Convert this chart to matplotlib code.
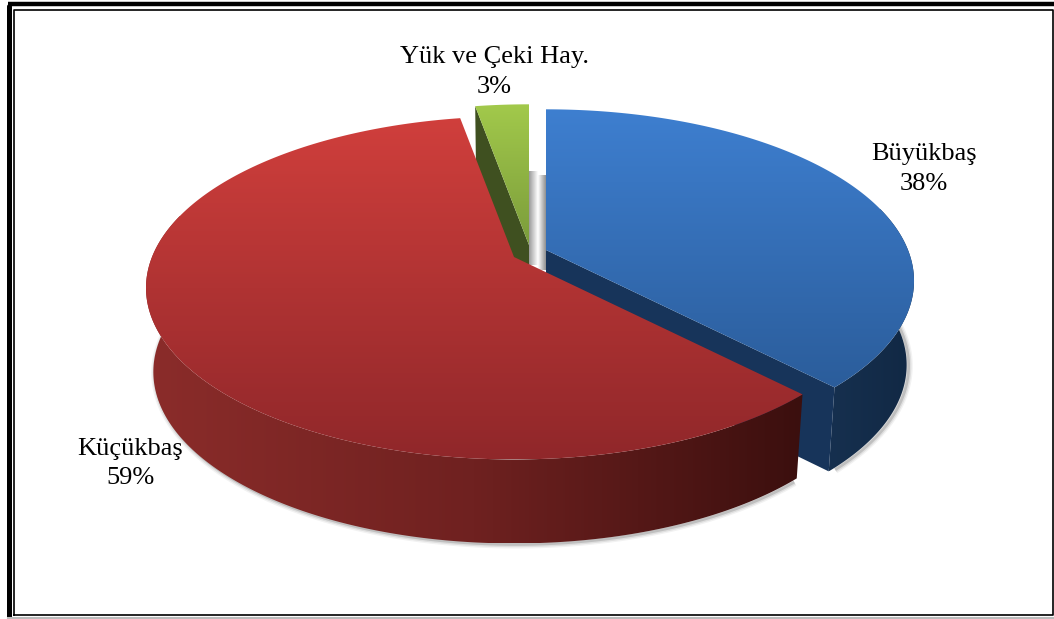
import numpy as np
import matplotlib
matplotlib.use("Agg")
import matplotlib.pyplot as plt
from matplotlib.colors import LinearSegmentedColormap
from matplotlib.patches import Polygon

# Chart data
labels = ["Büyükbaş", "Küçükbaş", "Yük ve Çeki Hay."]
values = [37.8, 59.4, 2.8]

# Where each slice ends up (apex in pixels), exploded by hand
apex_x = [546, 514, 529]
apex_y = [250, 257, 245]
label_x = [924, 130, 494]
label_y = [169, 463.5, 72]

# Perspective disc
RX = 362
RY = 166
PERSP = 0.18
DEPTH = 84
BOTTOM_SCALE = 0.98

plt.rcParams["font.family"] = ["Liberation Serif", "DejaVu Serif"]

fig = plt.figure(figsize=(10.54, 6.19), dpi=100)
ax = fig.add_axes([0, 0, 1, 1])


def arc(i, a0, a1, n=200):
    t = np.radians(np.linspace(a0, a1, n))
    d = 1 + PERSP * np.sin(t)
    x = apex_x[i] + RX * np.cos(t) / d
    y = apex_y[i] - RY * np.sin(t) / d
    return x, y


def lower(i, x, y):
    return apex_x[i] + (x - apex_x[i]) * BOTTOM_SCALE, y + DEPTH


def gradient(points, colors, z, vertical=True):
    # fill a polygon with a linear gradient, clipped to the polygon
    pts = np.array(points)
    cmap = LinearSegmentedColormap.from_list("g", colors)
    g = np.linspace(0, 1, 256)
    g = g[:, None] if vertical else g[None, :]
    x0, x1, y0, y1 = pts[:, 0].min(), pts[:, 0].max(), pts[:, 1].min(), pts[:, 1].max()
    im = ax.imshow(g, cmap=cmap, extent=[x0, x1, y1, y0], aspect="auto",
                   interpolation="bilinear", zorder=z)
    patch = Polygon(pts, closed=True, facecolor="none", edgecolor="none", zorder=z)
    ax.add_patch(patch)
    im.set_clip_path(patch)


def wedge(i, a0, a1):
    x, y = arc(i, a0, a1)
    return np.r_[[(apex_x[i], apex_y[i])], np.c_[x, y]]


def wall(i, a0, a1):
    x, y = arc(i, a0, a1)
    bx, by = lower(i, x, y)
    return np.r_[np.c_[x, y], np.c_[bx, by][::-1]]


def cut(i, a):
    x, y = arc(i, a, a, 1)
    bx, by = lower(i, x, y)
    ax0, ay0 = lower(i, np.array([apex_x[i]]), np.array([apex_y[i]]))
    return [(apex_x[i], apex_y[i]), (x[0], y[0]), (bx[0], by[0]), (ax0[0], ay0[0])]


def shadow(i, a0, a1, z):
    # soft edge along the lower rim only
    x, y = lower(i, *arc(i, a0, a1))
    for lw, al in [(6, 0.05), (4, 0.08), (2, 0.14)]:
        ax.plot(x + 2, y + 1, color="black", lw=lw, alpha=al, zorder=z, solid_capstyle="butt")


# angles of the slices, first one starts at twelve o'clock going clockwise
sweep = np.array(values) / sum(values) * 360
ends = 90 - np.cumsum(sweep)
starts = np.r_[90, ends[:-1]]

# grey shadows in the gap behind green and blue
gradient([(529, 171), (538, 171), (538, 265), (529, 265)], ["#9a9a9a", "#ffffff"], 1, vertical=False)
gradient([(538, 175), (546, 175), (546, 270), (538, 270)], ["#ffffff", "#8f8f8f"], 1, vertical=False)

# blue slice
shadow(0, 15, ends[0] + 1, 2)
gradient(wall(0, 15, ends[0]), ["#16304f", "#112844"], 3, vertical=False)
ax.add_patch(Polygon(cut(0, ends[0]), closed=True, facecolor="#17345a", edgecolor="none", zorder=4))
gradient(wedge(0, starts[0], ends[0]), ["#3e7fd0", "#2b5d9b"], 5)

# green slice
ax.add_patch(Polygon(cut(2, starts[2]), closed=True, facecolor="#3f5020", edgecolor="none", zorder=6))
gradient(wedge(2, starts[2], ends[2]), ["#a2c94b", "#7b9c3b"], 7)

# red slice
shadow(1, -195, ends[0] - 1, 8)
gradient(wall(1, -195, ends[0]), ["#8b2c2a", "#6f2120", "#3b0f0e"], 9, vertical=False)
gradient(wedge(1, starts[1], ends[1]), ["#d03f3c", "#90272a"], 10)

# labels
for name, v, lx, ly in zip(labels, values, label_x, label_y):
    ax.text(lx, ly, f"{name}\n{v:.0f}%", ha="center", va="center", fontsize=19,
            linespacing=1.45, color="black", zorder=12)

# double frame
ax.plot([8.5, 8.5], [617, 6], color="black", lw=3.6, zorder=13, solid_capstyle="round")
ax.plot([8, 1054], [4, 4], color="black", lw=3.2, zorder=13, solid_capstyle="butt")
ax.plot([13.5, 13.5, 1052.5, 1052.5, 13.5], [614.5, 9.5, 9.5, 614.5, 614.5], color="black", lw=1.2, zorder=13)
ax.plot([8, 1054], [617.5, 617.5], color="#bbbbbb", lw=1.5, zorder=13)

ax.set_xlim(0, 1054)
ax.set_ylim(619, 0)
ax.axis("off")

fig.savefig("out.png", dpi=100, facecolor="white")
